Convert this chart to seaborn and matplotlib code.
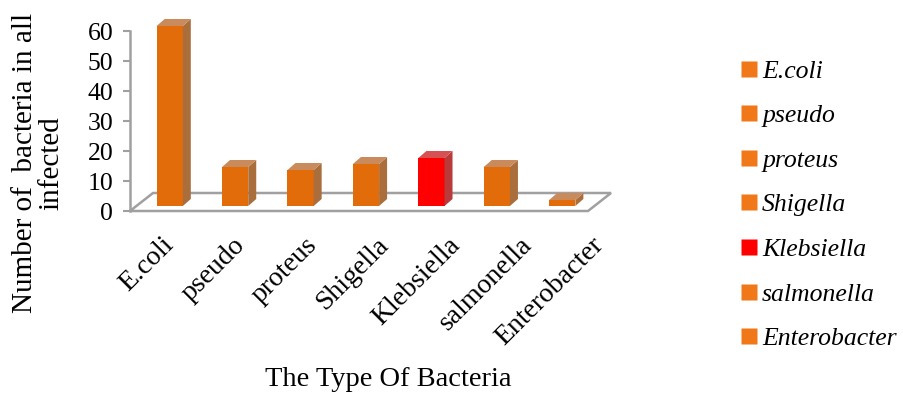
import matplotlib
matplotlib.use("Agg")
import matplotlib.pyplot as plt
import matplotlib.transforms as mtransforms
from matplotlib.patches import Polygon
from matplotlib.lines import Line2D
import numpy as np
import pandas as pd
import seaborn as sns

# Data
bacteria = ["E.coli", "pseudo", "proteus", "Shigella", "Klebsiella", "salmonella", "Enterobacter"]
counts = [60, 13, 12, 14, 16, 13, 2]
y_ticks = [0, 10, 20, 30, 40, 50, 60]

front_colors = ["#E36C0A", "#E36C0A", "#E36C0A", "#E36C0A", "#FF0000", "#E36C0A", "#E36C0A"]
side_colors = ["#A96E3C", "#A96E3C", "#A96E3C", "#A96E3C", "#B83A3A", "#A96E3C", "#A96E3C"]
top_colors = ["#C98B5B", "#C98B5B", "#C98B5B", "#C98B5B", "#D65252", "#C98B5B", "#C98B5B"]
legend_colors = ["#F07818", "#F07818", "#F07818", "#F07818", "#FF0000", "#F07818", "#F07818"]

df = pd.DataFrame({"bacteria": bacteria, "count": counts})

sns.set_theme(style="white")
plt.rcParams["font.family"] = ["Liberation Serif", "DejaVu Serif"]
plt.rcParams["text.color"] = "black"
plt.rcParams["xtick.color"] = "black"
plt.rcParams["ytick.color"] = "black"

W, H = 904, 396
ident = mtransforms.IdentityTransform()
fig = plt.figure(figsize=(W / 100, H / 100), dpi=100)
ax = fig.add_axes([130 / W, 185 / H, 458 / W, 180 / H])

sns.barplot(data=df, x="bacteria", y="count", hue="bacteria",
            palette=front_colors, saturation=1, width=0.4, dodge=False,
            legend=False, ax=ax)
ax.set_xlim(-0.5, len(bacteria) - 0.5)
ax.set_ylim(0, 60)

# pseudo-3D look: bars stand mid-depth on the floor, shifted back (right/up)
shift = mtransforms.ScaledTranslation(7 / 100, 5 / 100, fig.dpi_scale_trans)
depth = np.array([8.0, 7.0])  # pixel depth of each bar
bars = [p for p in ax.patches if p.get_height() > 0]
for bar in bars:
    bar.set_transform(ax.transData + shift)
    bar.set_edgecolor("none")
    bar.set_clip_on(False)
    bar.set_zorder(3)
fig.canvas.draw()
for bar in bars:
    i = int(round(bar.get_x() + bar.get_width() / 2))
    bb = bar.get_window_extent()
    x0, x1, y0, y1 = bb.x0, bb.x1, bb.y0, bb.y1
    side = Polygon([(x1, y0), (x1 + depth[0], y0 + depth[1]),
                    (x1 + depth[0], y1 + depth[1]), (x1, y1)],
                   closed=True, facecolor=side_colors[i], edgecolor="none",
                   transform=ident, zorder=3, clip_on=False)
    top = Polygon([(x0, y1), (x1, y1), (x1 + depth[0], y1 + depth[1]),
                   (x0 + depth[0], y1 + depth[1])],
                  closed=True, facecolor=top_colors[i], edgecolor="none",
                  transform=ident, zorder=3, clip_on=False)
    ax.add_artist(side)
    ax.add_artist(top)

# floor outline, behind the bars
axbb = ax.get_window_extent()
fd = np.array([23.0, 18.0])
fl = [(axbb.x0, axbb.y0), (axbb.x1, axbb.y0),
      (axbb.x1 + fd[0], axbb.y0 + fd[1]), (axbb.x0 + fd[0], axbb.y0 + fd[1])]
floor = Polygon(fl, closed=True, facecolor="none", edgecolor="#A0A0A0",
                linewidth=1.8, transform=ident, zorder=1, clip_on=False)
ax.add_artist(floor)

for s in ["top", "right", "bottom"]:
    ax.spines[s].set_visible(False)
ax.spines["left"].set_color("#A0A0A0")
ax.spines["left"].set_linewidth(1.8)
ax.set_yticks(y_ticks)
ax.tick_params(axis="y", which="both", left=True, length=5, width=1.5,
               color="#A0A0A0", labelsize=18.5, pad=7, labelcolor="black")
ax.set_xticks([])
ax.set_xlabel("")
ax.set_ylabel("")
ax.patch.set_alpha(0)

# category labels, spread along the perspective front edge
step = 71.7
lab_ax = fig.add_axes([(170 - step / 2) / W, 163 / H, step * len(bacteria) / W, 0.001])
lab_ax.set_xlim(-0.5, len(bacteria) - 0.5)
lab_ax.set_xticks(range(len(bacteria)))
lab_ax.set_xticklabels(bacteria, rotation=45, ha="right", va="center",
                       rotation_mode="anchor")
lab_ax.tick_params(axis="x", bottom=False, labelsize=20, pad=0, labelcolor="black")
lab_ax.set_yticks([])
for s in lab_ax.spines.values():
    s.set_visible(False)
lab_ax.patch.set_alpha(0)

fig.text(38 / W, 1 - 163 / H, "Number of  bacteria in all\ninfected",
         rotation=90, ha="center", va="center", multialignment="center",
         fontsize=21, linespacing=1.0)
fig.text(388 / W, 1 - 380 / H, "The Type Of Bacteria",
         ha="center", va="center", fontsize=20.5)

handles = [Line2D([], [], marker="s", linestyle="none", markersize=11,
                  markerfacecolor=c, markeredgecolor="none") for c in legend_colors]
fig.legend(handles, bacteria, loc="center left",
           bbox_to_anchor=(739 / W, 1 - 205 / H), frameon=False,
           prop={"style": "italic", "size": 18.5}, labelspacing=0.84,
           handlelength=0.75, handletextpad=0.15, borderpad=0, borderaxespad=0)

fig.savefig("out.png", dpi=100)
